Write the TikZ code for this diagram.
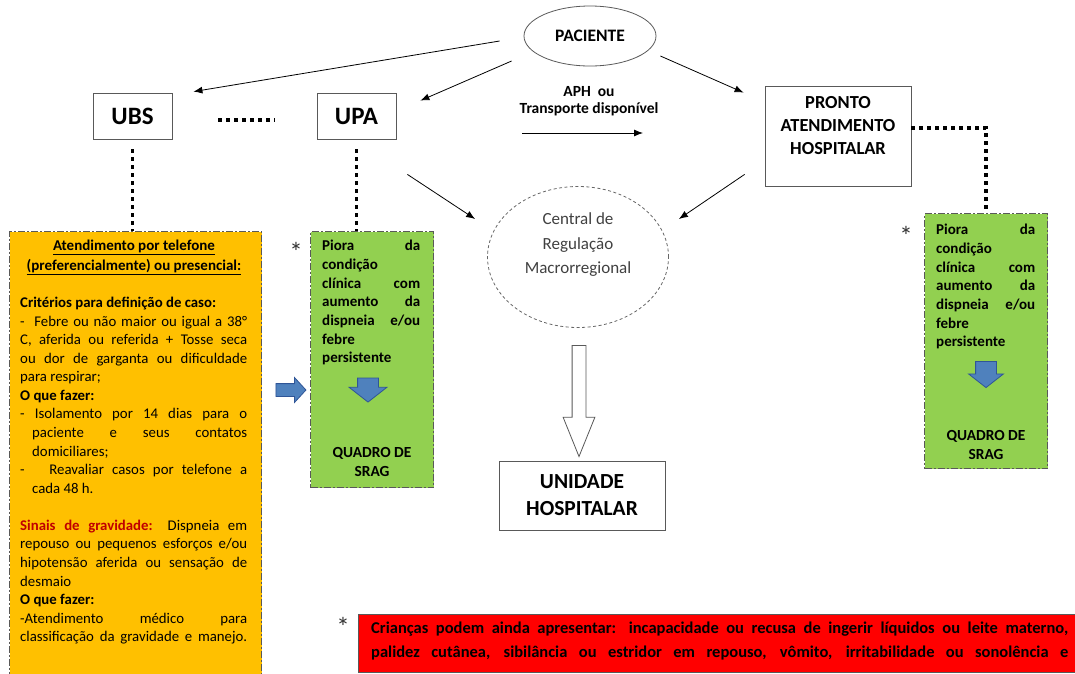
\documentclass[tikz,border=0pt]{standalone}
\usepackage{fontspec}
\setmainfont{Carlito}
\usetikzlibrary{positioning,arrows.meta,shapes.geometric,shapes.arrows}

\definecolor{ouro}{HTML}{FFC000}
\definecolor{verde}{HTML}{92D050}
\definecolor{azul}{HTML}{4F81BD}
\definecolor{azulesc}{HTML}{2F5597}
\definecolor{vermelho}{HTML}{FF0000}
\definecolor{vinho}{HTML}{C00000}
\definecolor{borda}{HTML}{595959}

% justified line of a given width
\newcommand{\jline}[2]{\makebox[#1][s]{#2}}

\begin{document}
\begin{tikzpicture}[x=1pt,y=-1pt,%
  % common options for the boxes:
  box/.style = {draw=borda, line width=0.8pt, align=center, inner sep=0},
  % coloured panels with dash-dot frame:
  panel/.style = {draw=borda, line width=1pt, dash pattern=on 7pt off 2pt on 2pt off 2pt,
              anchor=north west, inner sep=0},
  txt/.style = {anchor=north west, inner sep=0, align=left},
  star/.style = {font=\fontsize{27}{28}\selectfont, text=black!80},
  arr/.style = {->, >={Latex[length=9pt,width=7pt]}, line width=0.8pt},
  dotline/.style = {line width=3.5pt, dash pattern=on 3.5pt off 4.5pt},
  bluearrow/.style = {single arrow, fill=azul, draw=azulesc, line width=0.8pt,
              inner xsep=0, single arrow head indent=0, rotate=-90}
  ]
  \useasboundingbox (0,0) rectangle (1075,673);

  % top row
  \node[ellipse, draw=borda, line width=0.8pt, minimum width=132pt, minimum height=60pt,
    font=\bfseries\fontsize{17.5}{20}\selectfont] (pac) at (590,36) {PACIENTE};
  \node[box, minimum width=79pt, minimum height=46pt,
    font=\bfseries\fontsize{25}{28}\selectfont] (ubs) at (132.5,116) {UBS};
  \node[box, minimum width=79pt, minimum height=46pt,
    font=\bfseries\fontsize{25}{28}\selectfont] (upa) at (356.5,116) {UPA};
  \node[box, minimum width=146pt, minimum height=100pt,
    label={[yshift=10pt, align=center, font=\bfseries\fontsize{18.4}{23}\selectfont]center:PRONTO\\ATENDIMENTO\\HOSPITALAR}]
    (pah) at (838,136) {};
  \node[align=center, font=\bfseries\fontsize{15.5}{17}\selectfont] (aph) at (589,101)
    {APH\ \ ou\\Transporte disponível};
  \coordinate (t1) at (522,133);
  \coordinate (t2) at (643,133);

  % middle
  \node[ellipse, draw=black!60, line width=0.8pt, dash pattern=on 3pt off 2.5pt,
    minimum width=181pt, minimum height=141pt,
    label={[yshift=12pt, align=center, text=black!75, font=\fontsize{17}{24.5}\selectfont]center:Central de\\Regulação\\Macrorregional}]
    (reg) at (578,257) {};
  \node[single arrow, draw=borda, fill=white, line width=0.8pt, rotate=-90, inner xsep=0,
    inner ysep=6.5pt, minimum height=111pt, single arrow head extend=9pt,
    single arrow tip angle=44, single arrow head indent=0] (oca) at (579,392.5) {};
  \node[box, minimum width=166pt, minimum height=69pt,
    font=\bfseries\fontsize{21.5}{27}\selectfont] (uni) at (582,495.5) {UNIDADE\\HOSPITALAR};

  % panels
  \node[panel, fill=ouro, minimum width=252pt, minimum height=460pt] (atend) at (9,231) {};
  \node[panel, fill=verde, minimum width=123pt, minimum height=256pt] (sragA) at (310,231) {};
  \node[panel, fill=verde, minimum width=123pt, minimum height=255pt] (sragB) at (924,213) {};

  % orange panel text
  \node[align=center, font=\bfseries\fontsize{15}{20}\selectfont] (tel) at (134,257)
    {\underline{Atendimento por telefone}\\\underline{(preferencialmente) ou presencial:}};
  \node[txt, font=\fontsize{14.8}{18.56}\selectfont] (crit) at (20,297) {%
    \textbf{Critérios para definição de caso:}\\
    \jline{227pt}{-\ \ Febre ou não maior ou igual a 38°}\\
    \jline{227pt}{C, aferida ou referida + Tosse seca}\\
    \jline{227pt}{ou dor de garganta ou dificuldade}\\
    para respirar;\\
    \textbf{O que fazer:}\\
    \jline{227pt}{- Isolamento por 14 dias para o}\\
    \hspace*{12pt}\jline{215pt}{paciente e seus contatos}\\
    \hspace*{12pt}domiciliares;\\
    \jline{227pt}{-\ \ \ Reavaliar casos por telefone a}\\
    \hspace*{12pt}cada 48 h.\\[18.56pt]
    \jline{227pt}{\textcolor{vinho}{\textbf{Sinais de gravidade:}} Dispneia em}\\
    \jline{227pt}{repouso ou pequenos esforços e/ou}\\
    \jline{227pt}{hipotensão aferida ou sensação de}\\
    desmaio\\
    \textbf{O que fazer:}\\
    \jline{227pt}{-Atendimento médico para}\\
    \jline{227pt}{classificação da gravidade e manejo.}};

  % green panels text
  \node[txt, font=\bfseries\fontsize{15}{18.67}\selectfont] (pioraA) at (322,240) {%
    \jline{98pt}{Piora da}\\condição\\\jline{98pt}{clínica com}\\\jline{98pt}{aumento da}\\
    \jline{98pt}{dispneia e/ou}\\febre\\persistente};
  \node[bluearrow, inner ysep=10pt, minimum height=24pt, single arrow head extend=8.5pt,
    single arrow tip angle=104] (setaA) at (368,386) {};
  \node[align=center, font=\bfseries\fontsize{15.4}{19}\selectfont] (quadA) at (372,461.5)
    {QUADRO DE\\SRAG};
  \node[star] (astA) at (296,252) {*};

  \node[txt, font=\bfseries\fontsize{15}{18.67}\selectfont] (pioraB) at (936,224) {%
    \jline{99pt}{Piora da}\\condição\\\jline{99pt}{clínica com}\\\jline{99pt}{aumento da}\\
    \jline{99pt}{dispneia e/ou}\\febre\\persistente};
  \node[bluearrow, inner ysep=10pt, minimum height=26pt, single arrow head extend=7pt,
    single arrow tip angle=104] (setaB) at (986,370.5) {};
  \node[align=center, font=\bfseries\fontsize{15.4}{19}\selectfont] (quadB) at (986,444.5)
    {QUADRO DE\\SRAG};
  \node[star] (astB) at (906,236) {*};

  \node[single arrow, fill=azul, draw=azulesc, line width=0.8pt, inner xsep=0, inner ysep=6pt,
    minimum height=30pt, single arrow head extend=6pt, single arrow tip angle=95,
    single arrow head indent=0] (seta) at (288,390) {};

  % red note
  \node[fill=vermelho, draw=borda, line width=0.8pt, anchor=north west, inner sep=0,
    minimum width=730pt, minimum height=58pt] (nota) at (358,614) {};
  \node[txt, font=\bfseries\fontsize{16.5}{24}\selectfont] (notatxt) at (371,622) {%
    \jline{697pt}{Crianças podem ainda apresentar: incapacidade ou recusa de ingerir líquidos ou leite materno,}\\
    \jline{697pt}{palidez cutânea, sibilância ou estridor em repouso, vômito, irritabilidade ou sonolência e}};
  \node[star] (astC) at (343,627) {*};

  % connectors
  \draw[arr] ([shift={(-24,5)}]pac.west) -- ([shift={(21,-1)}]ubs.north east);
  \draw[arr] ([shift={(-12,25)}]pac.west) -- ([shift={(24,8)}]upa.north east);
  \draw[arr] ([shift={(4,20)}]pac.east) -- ([shift={(-21,7)}]pah.north west);
  \draw[arr] (t1) -- (t2);
  \draw[arr] ([shift={(11,35)}]upa.south east) -- ([shift={(-12,-38)}]reg.west);
  \draw[arr] ([shift={(-20,-12)}]pah.south west) -- ([shift={(10,-38)}]reg.east);

  \draw[dotline, shorten <=46pt, shorten >=42pt] ([yshift=-4pt]ubs.east) -- ([yshift=-4pt]upa.west);
  \draw[dotline, shorten <=10pt] (ubs.south) -- (ubs.south |- atend.north);
  \draw[dotline, shorten <=10pt] (upa.south) -- (upa.south |- sragA.north);
  \draw[dotline] ([yshift=8pt]pah.east) -| (sragB.north);
\end{tikzpicture}
\end{document}
